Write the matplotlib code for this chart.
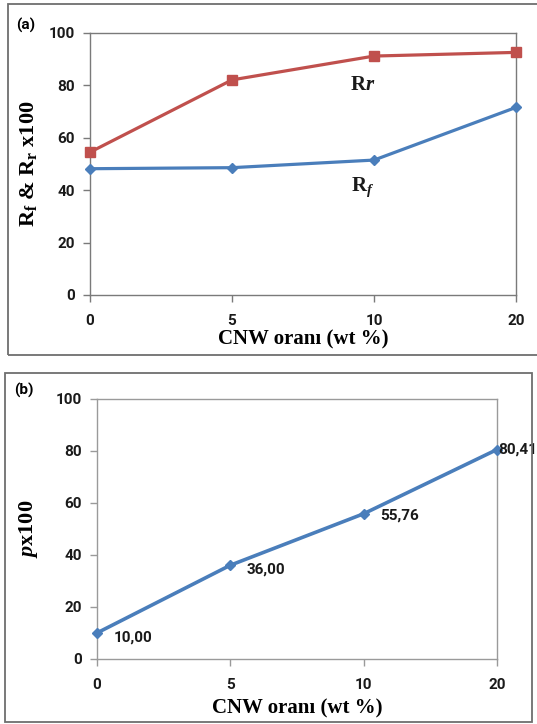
import matplotlib
matplotlib.use("Agg")
import matplotlib.pyplot as plt
from matplotlib.patches import Rectangle

# ---- data ----
cnw_labels = ["0", "5", "10", "20"]
rr_values = [54.5, 82.1, 91.2, 92.6]
rf_values = [48.2, 48.6, 51.5, 71.6]
p_values = [10.00, 36.00, 55.76, 80.41]
p_text = ["10,00", "36,00", "55,76", "80,41"]
y_ticks = [0, 20, 40, 60, 80, 100]

W, H = 537, 724
plt.rcParams['mathtext.fontset'] = 'custom'
plt.rcParams['mathtext.rm'] = 'Liberation Serif:bold'
plt.rcParams['mathtext.bf'] = 'Liberation Serif:bold'
plt.rcParams['mathtext.it'] = 'Liberation Serif:italic:bold'

fig = plt.figure(figsize=(W / 100, H / 100), dpi=100)
fig.patch.set_facecolor('white')

def fx(px):
    return px / W

def fy(py):
    return 1 - py / H

def box(x0, y0, x1, y1):
    fig.patches.append(Rectangle((fx(x0), fy(y1)), fx(x1) - fx(x0), fy(y0) - fy(y1),
                                 transform=fig.transFigure, fill=False,
                                 edgecolor='#6e6e6e', linewidth=1.3))

box(8, 4, 545, 355)
box(5, 372.5, 532, 722)

tick_font = dict(family='Roboto', weight='bold', size=11)
label_font = dict(family='Liberation Serif', weight='bold', size=15)
x = list(range(len(cnw_labels)))

def style_axes(ax, spine_color):
    for s in ax.spines.values():
        s.set_color(spine_color)
        s.set_linewidth(1.0)
    ax.set_xlim(0, 3)
    ax.set_ylim(0, 100)
    ax.set_xticks(x)
    ax.set_xticklabels(cnw_labels, **tick_font)
    ax.set_yticks(y_ticks)
    ax.set_yticklabels([str(v) for v in y_ticks], **tick_font)
    ax.tick_params(axis='both', direction='out', length=5, width=1.0,
                   color=spine_color, labelcolor='#1a1a1a')
    ax.tick_params(axis='x', pad=9)
    ax.tick_params(axis='y', pad=6)

# ---- panel (a) ----
ax1 = fig.add_axes([fx(90), fy(295), fx(516) - fx(90), fy(33) - fy(295)])
style_axes(ax1, '#7a7a7a')
ax1.plot(x, rr_values, color='#C0504D', linewidth=2.3, marker='s', markersize=7,
         clip_on=False, zorder=3)
ax1.plot(x, rf_values, color='#4A7EBB', linewidth=2.3, marker='D', markersize=5.5,
         clip_on=False, zorder=3)
ax1.annotate(r'$\mathbf{R}\mathit{r}$', (2, 81), xytext=(-8, -1), textcoords='offset points',
             ha='center', va='center', fontsize=15, color='#1a1a1a')
ax1.annotate(r'$\mathbf{R}_{\mathit{f}}$', (2, 41), xytext=(-8, 0), textcoords='offset points',
             ha='center', va='center', fontsize=15, color='#1a1a1a')
ax1.set_xlabel('CNW oranı (wt %)', labelpad=1, **label_font)
ax1.set_ylabel(r'$\mathbf{R}_{\mathbf{f}}$ & $\mathbf{R}_{\mathbf{r}}$ x100', labelpad=7,
               family='Liberation Serif', weight='bold', size=16)
fig.text(fx(26), fy(25), '(a)', ha='center', va='center', **tick_font)

# ---- panel (b) ----
ax2 = fig.add_axes([fx(97), fy(659), fx(497) - fx(97), fy(398.5) - fy(659)])
style_axes(ax2, '#9a9a9a')
ax2.plot(x, p_values, color='#4A7EBB', linewidth=2.6, marker='D', markersize=5.5,
         clip_on=False, zorder=3)
offsets = [(12, -3), (12, -3), (12, -1), (1, 0)]
for xi, yi, t, off in zip(x, p_values, p_text, offsets):
    ax2.annotate(t, (xi, yi), xytext=off, textcoords='offset points',
                 ha='left', va='center', color='#1a1a1a', annotation_clip=False,
                 **tick_font)
ax2.set_xlabel('CNW oranı (wt %)', labelpad=4, **label_font)
ax2.set_ylabel(r'$\mathit{p}$x100', labelpad=11, family='Liberation Serif',
               weight='bold', size=16)
fig.text(fx(24), fy(390), '(b)', ha='center', va='center', **tick_font)

fig.savefig('out.png', dpi=100, facecolor='white')
